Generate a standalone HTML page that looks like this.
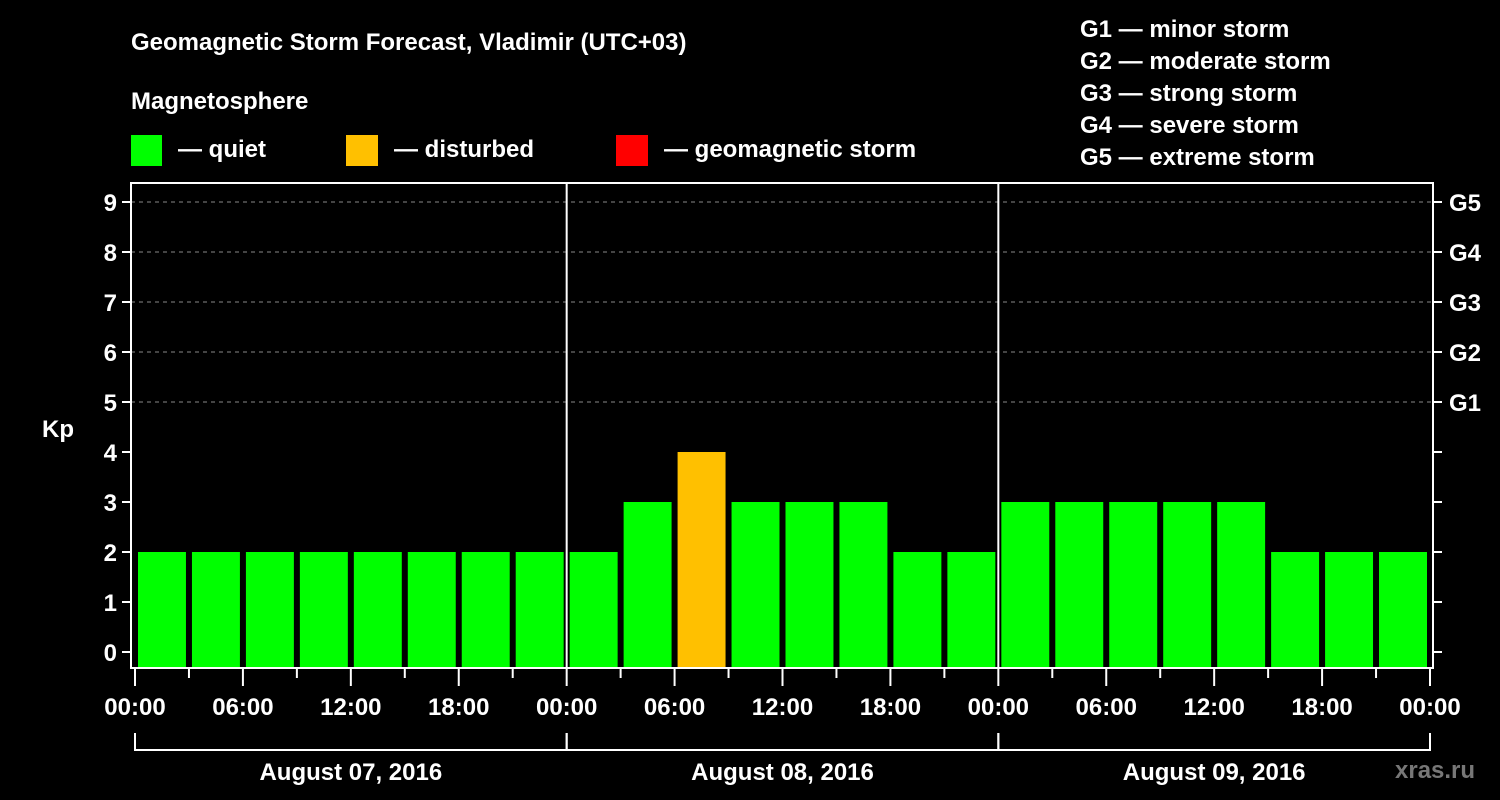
<!DOCTYPE html>
<html><head><meta charset="utf-8"><style>
html,body{margin:0;padding:0;background:#000;}
svg{display:block;font-family:"Liberation Sans",Arial,sans-serif;font-weight:bold;}
</style></head><body>
<svg width="1500" height="800" viewBox="0 0 1500 800">
<text x="131" y="50" fill="#fff" font-size="24">Geomagnetic Storm Forecast, Vladimir (UTC+03)</text>
<text x="131" y="109" fill="#fff" font-size="24">Magnetosphere</text>
<g>
<rect x="131" y="135" width="31" height="31" fill="#00ff00"/>
<text x="178" y="157" fill="#fff" font-size="24">— quiet</text>
<rect x="346" y="135" width="32" height="31" fill="#ffc000"/>
<text x="394" y="157" fill="#fff" font-size="24">— disturbed</text>
<rect x="616" y="135" width="32" height="31" fill="#ff0000"/>
<text x="664" y="157" fill="#fff" font-size="24">— geomagnetic storm</text>
</g>
<g font-size="24" fill="#fff">
<text x="1080" y="37">G1 — minor storm</text>
<text x="1080" y="69">G2 — moderate storm</text>
<text x="1080" y="101">G3 — strong storm</text>
<text x="1080" y="133">G4 — severe storm</text>
<text x="1080" y="165">G5 — extreme storm</text>
</g>
<text x="42" y="437" fill="#fff" font-size="24">Kp</text>
<text x="1395" y="778" fill="#777" font-size="24">xras.ru</text>
<g id="chart"></g>
</svg>
<script>
const kpValues=[2,2,2,2,2,2,2,2, 2,3,4,3,3,3,2,2, 3,3,3,3,3,2,2,2];
const yTicks=[0,1,2,3,4,5,6,7,8,9];
const gLevels=["G1","G2","G3","G4","G5"];
const gKp=[5,6,7,8,9];
const timeLabels=["00:00","06:00","12:00","18:00","00:00","06:00","12:00","18:00","00:00","06:00","12:00","18:00","00:00"];
const dayLabels=["August 07, 2016","August 08, 2016","August 09, 2016"];

const NS="http://www.w3.org/2000/svg";
const g=document.getElementById('chart');
const L=131,R=1433,T=183,B=668,X0=135,X1=1430;
const yS=v=>652-v*50;
const xS=i=>X0+(X1-X0)*i/kpValues.length; // i in 3h slots
function mk(t,a,p){const e=document.createElementNS(NS,t);for(const k in a)e.setAttribute(k,a[k]);(p||g).appendChild(e);return e;}
// gridlines
gKp.forEach((v,i)=>{
 const l=mk('line',{x1:L,x2:R,y1:yS(v),y2:yS(v),stroke:'#888','stroke-dasharray':'4 4','stroke-width':1});
 
 
});
// bars
kpValues.forEach((v,i)=>{
 const x=xS(i)+3,w=(X1-X0)/kpValues.length-6;
 const col=v>=5?'#ff0000':(v>=4?'#ffc000':'#00ff00');
 const r=mk('rect',{x:x,y:yS(v),width:w,height:B-1-yS(v),fill:col});
 
 
});
// frame
const f=mk('rect',{x:L,y:T,width:R-L,height:B-T,fill:'none',stroke:'#fff','stroke-width':2});


// day separators
for(let d=1;d<dayLabels.length;d++){
 const x=xS(d*8);
 const l=mk('line',{x1:x,x2:x,y1:T,y2:B,stroke:'#fff','stroke-width':2});
 
 
}
// y ticks
yTicks.forEach(v=>{
 const t=mk('line',{x1:L-9,x2:L,y1:yS(v),y2:yS(v),stroke:'#fff','stroke-width':2});
 
 
 const tx=mk('text',{x:L-14,y:yS(v)+9,fill:'#fff','font-size':24,'text-anchor':'end'});
 tx.textContent=v;
 
 
 const t2=mk('line',{x1:R,x2:R+9,y1:yS(v),y2:yS(v),stroke:'#fff','stroke-width':2});
 
 
});
gLevels.forEach((s,i)=>{
 const tx=mk('text',{x:R+16,y:yS(gKp[i])+9,fill:'#fff','font-size':24});
 tx.textContent=s;
 
 
});
// x ticks
for(let i=0;i<=kpValues.length;i++){
 const x=xS(i),maj=i%2===0;
 const t=mk('line',{x1:x,x2:x,y1:B,y2:B+(maj?18:10),stroke:'#fff','stroke-width':2});
 
 
}
timeLabels.forEach((s,i)=>{
 const tx=mk('text',{x:xS(i*2),y:715,fill:'#fff','font-size':24,'text-anchor':'middle'});
 tx.textContent=s;
 
 
});
// day brackets
dayLabels.forEach((s,d)=>{
 const a=xS(d*8),b=xS(d*8+8);
 const p=mk('path',{d:`M${a} 733V750H${b}V733`,fill:'none',stroke:'#fff','stroke-width':2});
 
 
 const tx=mk('text',{x:(a+b)/2,y:780,fill:'#fff','font-size':24,'text-anchor':'middle'});
 tx.textContent=s;
 
 
});
</script>
</body></html>
